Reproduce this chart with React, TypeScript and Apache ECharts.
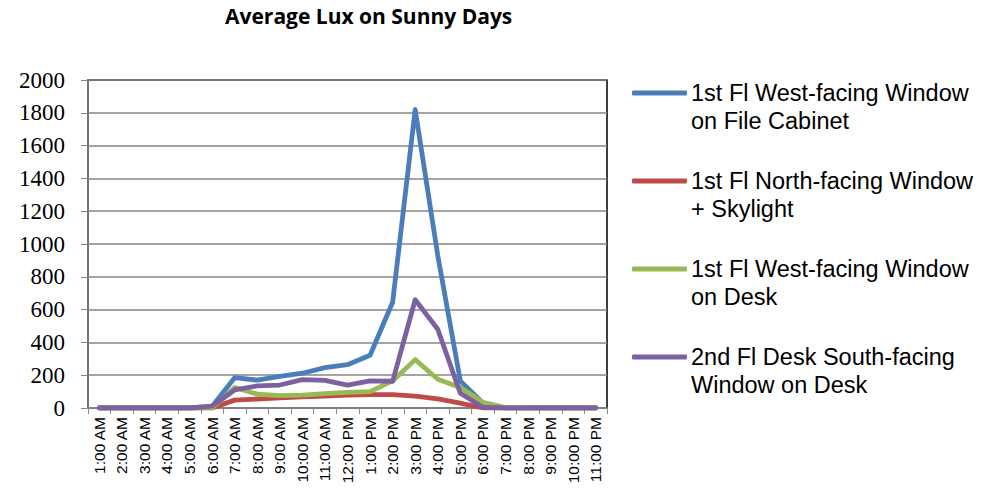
import React, { useEffect, useRef } from "react";
import * as echarts from "echarts";

const hours = [
  "1:00 AM", "2:00 AM", "3:00 AM", "4:00 AM", "5:00 AM", "6:00 AM", "7:00 AM", "8:00 AM",
  "9:00 AM", "10:00 AM", "11:00 AM", "12:00 PM", "1:00 PM", "2:00 PM", "3:00 PM", "4:00 PM",
  "5:00 PM", "6:00 PM", "7:00 PM", "8:00 PM", "9:00 PM", "10:00 PM", "11:00 PM",
];

const westCabinet = [0, 0, 0, 0, 0, 10, 185, 170, 193, 212, 246, 264, 322, 645, 1820, 930, 165, 30, 0, 0, 0, 0, 0];
const northSkylight = [0, 0, 0, 0, 0, 0, 48, 55, 62, 68, 73, 78, 82, 82, 73, 55, 30, 0, 0, 0, 0, 0, 0];
const westDesk = [0, 0, 0, 0, 0, 0, 125, 85, 75, 78, 88, 95, 100, 165, 295, 175, 125, 35, 2, 0, 0, 0, 0];
const southDesk = [0, 0, 0, 0, 0, 12, 110, 135, 140, 173, 169, 140, 165, 163, 660, 480, 90, 5, 0, 0, 0, 0, 0];

const seriesNames = [
  "1st Fl West-facing Window on File Cabinet",
  "1st Fl North-facing Window + Skylight",
  "1st Fl West-facing Window on Desk",
  "2nd Fl Desk South-facing Window on Desk",
];
const legendLines: Record<string, string[]> = {
  "1st Fl West-facing Window on File Cabinet": ["1st Fl West-facing Window", "on File Cabinet"],
  "1st Fl North-facing Window + Skylight": ["1st Fl North-facing Window", "+ Skylight"],
  "1st Fl West-facing Window on Desk": ["1st Fl West-facing Window", "on Desk"],
  "2nd Fl Desk South-facing Window on Desk": ["2nd Fl Desk South-facing", "Window on Desk"],
};
const colors = ["#4A7EBB", "#BE4B48", "#98B954", "#7D60A0"];
const values = [westCabinet, northSkylight, westDesk, southDesk];

export default function App() {
  const ref = useRef<HTMLDivElement>(null);
  useEffect(() => {
    if (!ref.current) return;
    document.body.style.margin = "0";
    const chart = echarts.init(ref.current, null, { renderer: "svg" });
    chart.setOption({
      animation: false,
      backgroundColor: "#ffffff",
      title: {
        text: "Average Lux on Sunny Days",
        left: 225,
        top: 5,
        padding: 0,
        textStyle: { fontFamily: "Open Sans", fontWeight: "bold", fontSize: 21, color: "#000" },
      },
      legend: {
        orient: "vertical",
        left: 632,
        top: 51,
        padding: 0,
        itemGap: 4,
        itemWidth: 55,
        itemHeight: 5,
        icon: "roundRect",
        data: seriesNames,
        formatter: (name: string) => "\n" + legendLines[name].join("\n"),
        textStyle: {
          fontFamily: "Liberation Sans",
          fontSize: 23.5,
          lineHeight: 28,
          color: "#000",
          padding: [0, 0, 0, -1],
        },
      },
      grid: {
        left: 88,
        right: 386,
        top: 80,
        bottom: 80,
        show: true,
        borderColor: "#000",
        borderWidth: 1.5,
      },
      xAxis: {
        type: "category",
        data: hours,
        boundaryGap: true,
        axisLine: { lineStyle: { color: "#868686", width: 1.5 } },
        axisTick: { show: true, length: 6, lineStyle: { color: "#868686" } },
        axisLabel: {
          rotate: 90,
          interval: 0,
          margin: 9,
          fontFamily: "Liberation Sans",
          fontSize: 15.5,
          color: "#000",
        },
      },
      yAxis: {
        type: "value",
        min: 0,
        max: 2000,
        interval: 200,
        axisLine: { show: true, lineStyle: { color: "#868686", width: 1.5 } },
        axisTick: { show: true, length: 7, lineStyle: { color: "#868686" } },
        axisLabel: {
          margin: 23,
          fontFamily: "Liberation Serif",
          fontSize: 23,
          color: "#000",
          formatter: (v: number) => String(v),
        },
        splitLine: { lineStyle: { color: "#868686", width: 1.5 } },
      },
      series: seriesNames.map((name, i) => ({
        name,
        type: "line",
        data: values[i],
        showSymbol: false,
        symbol: "none",
        smooth: false,
        color: colors[i],
        lineStyle: { width: 4.8, color: colors[i], cap: "round", join: "round" },
      })),
    });
    return () => chart.dispose();
  }, []);
  return <div ref={ref} style={{ width: 993, height: 488 }} />;
}
